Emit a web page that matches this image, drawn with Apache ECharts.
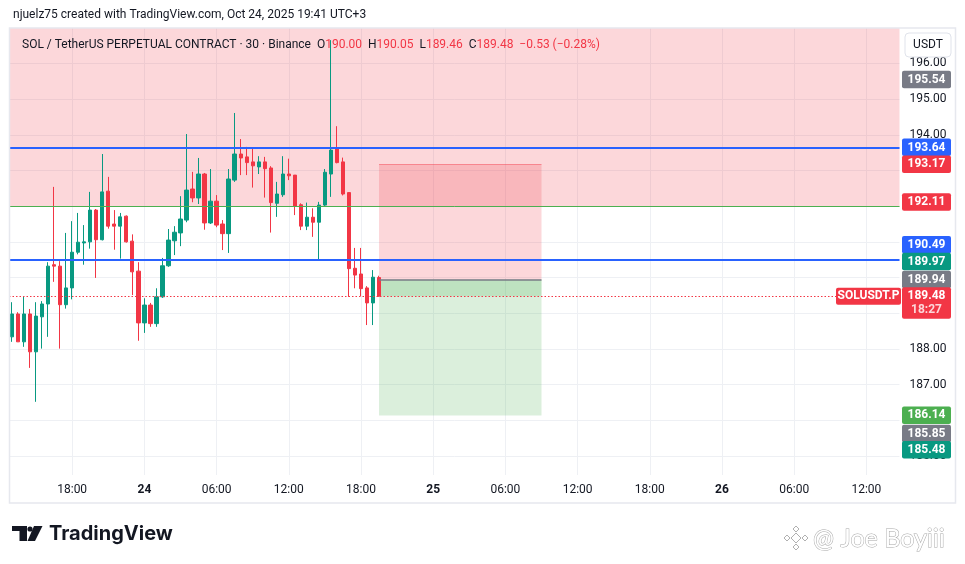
<!DOCTYPE html>
<html><head><meta charset="utf-8">
<script src="https://cdn.jsdelivr.net/npm/echarts@6/dist/echarts.min.js"></script>
<style>html,body{margin:0;padding:0;background:#fff}#c{width:965px;height:564px}</style>
</head><body><div id="c"></div>
<script>
// ---- data (30-minute candles, SOLUSDT.P, from Oct 23 13:00) ----
const opens  = [188.34,188.98,188.20,188.98,187.92,188.90,189.26,190.36,190.32,189.24,
                189.71,190.71,190.97,191.00,191.89,191.06,192.42,191.50,191.44,191.72,
                191.02,190.18,188.73,189.23,188.71,189.46,190.33,191.03,191.25,191.61,
                192.48,192.23,192.90,191.53,192.14,191.50,191.23,192.73,193.46,193.38,
                193.24,193.10,193.24,193.07,192.08,192.32,192.90,192.87,192.04,191.44,
                191.69,191.55,192.03,192.90,193.60,193.24,192.38,190.26,190.10,189.71,
                189.29,190.00];
const highs  = [189.31,189.03,189.48,189.12,189.31,189.34,190.43,192.54,190.46,191.25,
                191.58,191.81,191.47,192.40,191.92,193.46,192.82,191.89,191.81,191.74,
                191.21,190.43,189.42,189.29,189.70,190.55,191.36,191.44,192.28,194.02,
                192.96,193.35,192.93,193.04,192.31,191.61,193.04,194.61,193.88,193.66,
                193.65,193.40,193.38,193.12,192.68,193.40,193.33,192.87,192.08,192.10,
                191.94,192.12,193.04,196.65,194.24,193.36,192.38,190.83,190.83,189.76,
                190.21,190.05];
const lows   = [188.20,188.20,188.06,187.47,186.52,188.01,188.34,189.88,188.01,189.13,
                189.39,190.65,190.36,190.81,189.99,191.04,191.37,190.78,190.53,190.98,
                189.51,188.23,188.45,188.62,188.62,189.43,190.30,190.63,190.88,191.55,
                192.11,192.06,191.34,191.50,191.41,190.77,190.69,192.68,192.87,192.87,
                192.52,192.90,192.24,191.26,191.70,192.26,192.73,191.75,191.33,191.33,
                191.14,190.51,192.00,192.26,193.20,192.30,189.46,189.70,189.48,188.67,
                188.67,189.46];
const closes = [188.98,188.20,188.98,187.92,188.92,189.26,190.32,190.32,189.24,189.71,
                190.71,190.99,191.00,191.89,191.06,192.40,191.44,191.44,191.70,191.00,
                190.16,188.73,189.23,188.71,189.46,190.33,191.05,191.27,191.64,192.45,
                192.23,192.90,191.53,192.14,191.47,191.23,192.76,193.46,193.35,193.22,
                193.13,193.24,193.05,192.10,192.34,192.90,192.85,192.00,191.44,191.69,
                191.55,192.03,192.95,193.57,193.22,192.34,190.25,190.07,189.69,189.29,
                190.01,189.48];
const priceTicks = [185,186,187,188,189,190,191,192,193,194,195,196];
const priceRange = [184.47, 196.99];
const startDay = 23, startMinute = 13*60, slotMinutes = 30, slotCount = 148;
const redZone = [192.00, 196.99];
const blueLines = [193.64, 190.49];
const greenLine = 192.00;
const lastPrice = 189.48;
const pos = {startIdx: 61, endIdx: 88, stop: 193.17, entry: 189.94, target: 186.14};
const tagValues = [195.54, 193.64, 193.17, 192.11, 190.49, 189.97, 189.94, 189.48, 186.14, 185.85, 185.48];
const tagKinds  = ['gray','blue','red','red','blue','teal','gray','red','green','gray','teal'];
const countdown = '18:27';
const legendVals = {O:'190.00', H:'190.05', L:'189.46', C:'189.48', chg:'\u22120.53 (\u22120.28%)'};

// ---- layout / style ----
const tagNudge = [0,0,0,0,-15,-17,0,0,0,8,11];
const tagColors = {gray:'#787B86', blue:'#2962FF', red:'#F23645', teal:'#089981', green:'#4CAF50'};
const UP = '#089981', DOWN = '#F23645';
const FONT = 'Roboto, "Noto Sans", sans-serif';

const cats = [];
for (let k = 0; k < slotCount; k++) {
  const t = startMinute + k*slotMinutes;
  const d = startDay + Math.floor(t/1440);
  const h = Math.floor((t%1440)/60), m = t%60;
  cats.push(d + ' ' + String(h).padStart(2,'0') + ':' + String(m).padStart(2,'0'));
}
function parseCat(v){ const [d,t]=v.split(' '); const [h,m]=t.split(':').map(Number); return {d,t,h,m}; }
const showTick = (i, v) => { const p = parseCat(v); return p.m === 0 && p.h % 6 === 0; };

const candleData = opens.map((o,i)=>[o, closes[i], lows[i], highs[i]]);

const chart = echarts.init(document.getElementById('c'), null, {renderer:'canvas'});
const option = {
  animation: false,
  backgroundColor: '#ffffff',
  title: [
    {text: 'njuelz75 created with TradingView.com, Oct 24, 2025 19:41 UTC+3', left: 8, top: 4,
     textStyle: {fontSize: 12, fontWeight: 'normal', color: '#131722', fontFamily: FONT}},
    {text: '{d|SOL / TetherUS PERPETUAL CONTRACT \u00b7 30 \u00b7 Binance  O}{r|' + legendVals.O +
           '}{d|  H}{r|' + legendVals.H + '}{d|  L}{r|' + legendVals.L + '}{d|  C}{r|' + legendVals.C +
           '}{r|  ' + legendVals.chg + '}', left: 17, top: 34,
     textStyle: {fontWeight: 'normal', rich: {
        d: {fontSize: 12, fontWeight: 'normal', color: '#131722', fontFamily: FONT},
        r: {fontSize: 12, fontWeight: 'normal', color: '#F23645', fontFamily: FONT}}}}
  ],
  grid: {left: 9, top: 28, width: 890.5, height: 447, containLabel: false},
  xAxis: {
    type: 'category', data: cats, boundaryGap: true,
    axisLine: {show: false}, axisTick: {show: false},
    axisLabel: {interval: showTick, margin: 9, color: '#131722', fontSize: 12, fontFamily: FONT,
      formatter: v => { const p = parseCat(v); return (p.h===0 && p.m===0) ? '{b|' + p.d + '}' : p.t; },
      rich: {b: {fontWeight: 'bold', fontSize: 12, color: '#131722', fontFamily: FONT}}},
    splitLine: {show: true, interval: showTick, alignWithLabel: true, lineStyle: {color: '#eef0f4', width: 1}}
  },
  yAxis: {
    type: 'value', position: 'right', min: priceRange[0], max: priceRange[1], scale: true,
    axisLine: {show: false},
    axisTick: {show: false, customValues: priceTicks},
    axisLabel: {customValues: priceTicks, margin: 10, color: '#131722', fontSize: 12, fontFamily: FONT,
      formatter: v => v.toFixed(2)},
    splitLine: {show: true, lineStyle: {color: '#eef0f4', width: 1}}
  },
  series: [{
    type: 'candlestick', data: candleData, barWidth: 3.8,
    itemStyle: {color: UP, color0: DOWN, borderColor: UP, borderColor0: DOWN, borderWidth: 1},
    markArea: {silent: true, data: [
      [{yAxis: redZone[0], itemStyle: {color: 'rgba(242,54,69,0.2)'}}, {yAxis: redZone[1]}],
      [{coord: [pos.startIdx, pos.stop], itemStyle: {color: 'rgba(242,54,69,0.2)'}}, {coord: [pos.endIdx, pos.entry]}],
      [{coord: [pos.startIdx, pos.entry], itemStyle: {color: 'rgba(76,175,80,0.2)'}}, {coord: [pos.endIdx, pos.target]}],
      [{coord: [pos.startIdx, pos.entry], itemStyle: {color: 'rgba(76,175,80,0.2)'}}, {coord: [pos.endIdx, lastPrice]}]
    ]},
    markLine: {silent: true, symbol: 'none', label: {show: false}, data: [
      {yAxis: blueLines[0], lineStyle: {color: '#2962FF', width: 2, type: 'solid'}},
      {yAxis: blueLines[1], lineStyle: {color: '#2962FF', width: 2, type: 'solid'}},
      {yAxis: greenLine, lineStyle: {color: '#4CAF50', width: 1, type: 'solid'}},
      {yAxis: lastPrice, lineStyle: {color: '#F23645', width: 1, type: [1.5, 2]}},
      [{coord: [pos.startIdx, pos.entry], lineStyle: {color: '#787B86', width: 1.5, type: 'solid'}}, {coord: [pos.endIdx, pos.entry]}],
      [{coord: [pos.startIdx, pos.stop], lineStyle: {color: 'rgba(242,54,69,0.45)', width: 1, type: 'solid'}}, {coord: [pos.endIdx, pos.stop]}]
    ]}
  }]
};
chart.setOption(option);

// ---- overlays positioned through the axis scale ----
const TAGFONT = 'bold 12px ' + FONT;
const g = [];
g.push({type: 'rect', z: 50, silent: true, shape: {x: 9.5, y: 28, width: 946, height: 475},
        style: {fill: 'none', stroke: '#e6e8ee', lineWidth: 1.5}});
// USDT box
g.push({type: 'rect', z: 60, shape: {x: 905, y: 33, width: 46, height: 24, r: 4},
        style: {fill: '#ffffff', stroke: '#e0e3eb', lineWidth: 1}});
g.push({type: 'text', z: 61, x: 928, y: 45, style: {text: 'USDT', font: '12px ' + FONT, fill: '#131722',
        textAlign: 'center', textVerticalAlign: 'middle'}});
// price tags
tagValues.forEach((v, i) => {
  const y = chart.convertToPixel({yAxisIndex: 0}, v) + tagNudge[i];
  const isLast = v === lastPrice;
  g.push({type: 'rect', z: 70, shape: {x: 902, y: y - 9, width: 49, height: isLast ? 31.5 : 17.5, r: 2},
          style: {fill: tagColors[tagKinds[i]]}});
  g.push({type: 'text', z: 71, x: 926.5, y: y, style: {text: v.toFixed(2), font: TAGFONT,
          fill: '#ffffff', textAlign: 'center', textVerticalAlign: 'middle'}});
  if (isLast) {
    g.push({type: 'text', z: 71, x: 926.5, y: y + 14, style: {text: countdown, font: TAGFONT,
            fill: 'rgba(255,255,255,0.8)', textAlign: 'center', textVerticalAlign: 'middle'}});
    g.push({type: 'rect', z: 70, shape: {x: 836, y: y - 8.5, width: 65, height: 17, r: 2},
            style: {fill: tagColors.red}});
    g.push({type: 'text', z: 71, x: 868.5, y: y, style: {text: 'SOLUSDT.P', font: TAGFONT,
            fill: '#ffffff', textAlign: 'center', textVerticalAlign: 'middle'}});
  }
});
// TradingView logo
g.push({type: 'polygon', z: 60, shape: {points: [[12,526],[27,526],[27,541],[19.5,541],[19.5,531],[12,531]]},
        style: {fill: '#131722'}});
g.push({type: 'circle', z: 60, shape: {cx: 30, cy: 529, r: 2.6}, style: {fill: '#131722'}});
g.push({type: 'polygon', z: 60, shape: {points: [[34,526],[42.5,526],[35,541],[27.5,541]]}, style: {fill: '#131722'}});
g.push({type: 'text', z: 60, x: 49, y: 534, style: {text: 'TradingView', font: 'bold 20px Inter, ' + FONT,
        fill: '#131722', textAlign: 'left', textVerticalAlign: 'middle'}});
// watermark
const bx = 796, by = 538;
[[0,0,5],[-9,0,3],[9,0,3],[0,-9,3],[0,9,3]].forEach(([dx,dy,r]) => {
  g.push({type: 'polygon', z: 60, shape: {points: [[bx+dx,by+dy-r],[bx+dx+r,by+dy],[bx+dx,by+dy+r],[bx+dx-r,by+dy]]},
          style: {fill: '#ffffff', stroke: '#b0b0b0', lineWidth: 1}});
});
g.push({type: 'text', z: 60, x: 813, y: 539, style: {text: '@ Joe Boyiii', font: '25px Lato, ' + FONT,
        fill: '#ffffff', stroke: '#a8a8a8', lineWidth: 1, textAlign: 'left', textVerticalAlign: 'middle'}});
chart.setOption({graphic: g});
</script></body></html>
